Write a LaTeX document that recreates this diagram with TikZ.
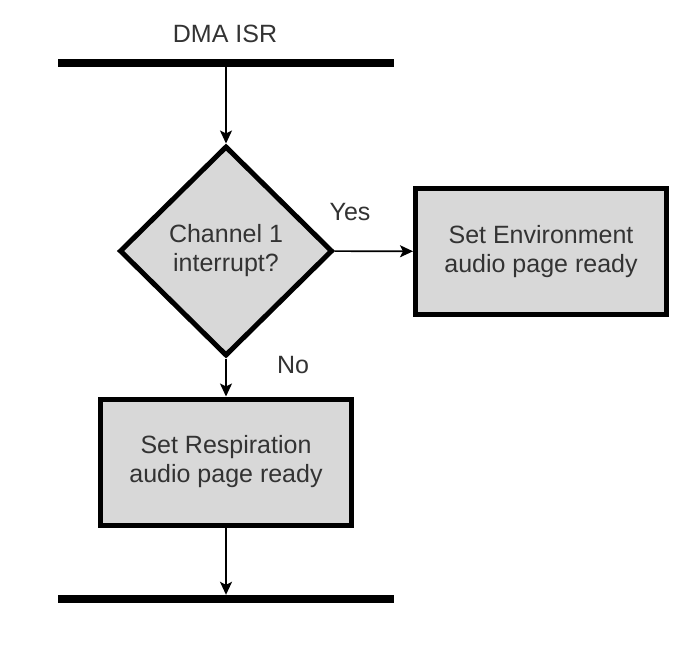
\documentclass[tikz,border=0pt]{standalone}
\usepackage{fontspec}
\setmainfont{Liberation Sans}
\usetikzlibrary{shapes.geometric,arrows.meta}

\definecolor{color1}{RGB}{255,255,255}
\definecolor{color2}{RGB}{216,216,216}
\definecolor{color3}{RGB}{0,0,0}
\definecolor{color4}{RGB}{51,51,51}

\tikzset{
	lbl/.style={text=color4, font=\fontsize{25}{29}\selectfont, inner sep=0pt},
	bar/.style={fill=color3, minimum width=336pt, minimum height=8pt, inner sep=0pt},
	stepbox/.style={lbl, fill=color2, draw=color3, line width=5pt, minimum width=251pt, minimum height=126pt, align=center},
	decision/.style={lbl, diamond, fill=color2, draw=color3, line width=5pt, minimum width=213pt, minimum height=210pt, align=center},
	flow/.style={color=color3, line width=1.6pt, -{Stealth[length=13pt, width=12pt, inset=3pt]}}
}

\begin{document}
\begin{tikzpicture}[x=1pt, y=-1pt]
	\useasboundingbox[fill=color1] (0,0) rectangle (676,663);
	% 1 node layouts
	\node[lbl] (n1) at (225,34) {DMA ISR};
	\node[bar] (n2) at (226,63) {};
	\node[decision] (n3) at (226,251) {Channel 1\\interrupt?};
	\node[stepbox] (n4) at (541,251.5) {Set Environment\\audio page ready};
	\node[stepbox] (n5) at (226,462) {Set Respiration\\audio page ready};
	\node[bar] (n6) at (226,599) {};
	\node[lbl] (n7) at (350,212) {Yes};
	\node[lbl] (n8) at (293,365) {No};
	\draw[flow] (n2) -- (n3);
	\draw[flow] (n3) -- (n4);
	\draw[flow] (n3) -- (n5);
	\draw[flow] (n5) -- (n6);
\end{tikzpicture}
\end{document}
